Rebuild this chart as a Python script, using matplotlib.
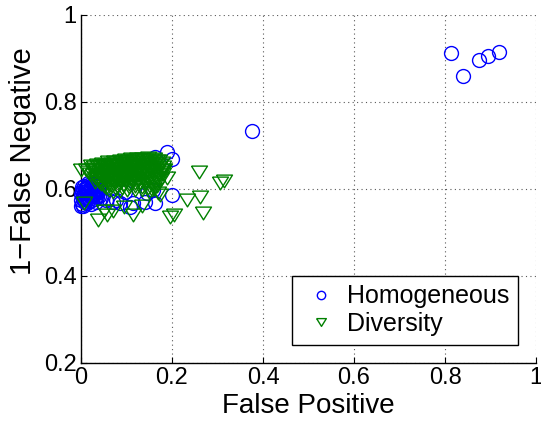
import matplotlib
matplotlib.use("Agg")
import matplotlib.pyplot as plt
from matplotlib.lines import Line2D

plt.rcParams['font.family'] = ['Liberation Sans', 'DejaVu Sans']

# Homogeneous ensembles: (false positive, 1 - false negative)
homog_fp = [
    0.000, 0.002, 0.004, 0.003, 0.006, 0.008, 0.010, 0.012, 0.014, 0.016,
    0.018, 0.020, 0.022, 0.024, 0.026, 0.028, 0.030, 0.032, 0.035, 0.038,
    0.040, 0.042, 0.001, 0.005, 0.009, 0.015, 0.007, 0.011, 0.019, 0.025,
    0.002, 0.013, 0.021, 0.033, 0.037, 0.004, 0.017, 0.029,
    0.000, 0.006, 0.012, 0.018, 0.023, 0.027, 0.031, 0.036, 0.040, 0.009,
    0.014, 0.003, 0.020, 0.034,
    0.045, 0.056, 0.070, 0.078, 0.086, 0.097, 0.108, 0.114, 0.141, 0.144,
    0.158, 0.163, 0.163, 0.188, 0.199, 0.199,
    0.375, 0.813, 0.840, 0.875, 0.894, 0.919,
]
homog_tp = [
    0.575, 0.565, 0.585, 0.598, 0.607, 0.570, 0.590, 0.603, 0.580, 0.610,
    0.595, 0.572, 0.604, 0.587, 0.612, 0.598, 0.578, 0.606, 0.590, 0.600,
    0.583, 0.606, 0.560, 0.562, 0.600, 0.614, 0.593, 0.578, 0.585, 0.600,
    0.592, 0.568, 0.566, 0.570, 0.592, 0.578, 0.596, 0.588,
    0.588, 0.582, 0.596, 0.576, 0.592, 0.583, 0.596, 0.581, 0.597, 0.571,
    0.605, 0.605, 0.600, 0.584,
    0.579, 0.575, 0.571, 0.575, 0.568, 0.594, 0.559, 0.568, 0.571, 0.590,
    0.598, 0.568, 0.674, 0.686, 0.668, 0.586,
    0.734, 0.913, 0.860, 0.897, 0.906, 0.916,
]

# Diversity-based ensembles
div_fp = [
    0.022, 0.035, 0.047, 0.060, 0.072, 0.085, 0.097, 0.110, 0.122, 0.135,
    0.147, 0.160, 0.172,
    0.028, 0.041, 0.053, 0.066, 0.078, 0.091, 0.103, 0.116, 0.128, 0.141,
    0.153, 0.166, 0.177,
    0.010, 0.024, 0.037, 0.049, 0.062, 0.074, 0.087, 0.099, 0.112, 0.124,
    0.137, 0.149, 0.162, 0.174,
    0.016, 0.030, 0.043, 0.055, 0.068, 0.081, 0.093, 0.106, 0.118, 0.131,
    0.143, 0.156, 0.168, 0.180,
    0.020, 0.033, 0.046, 0.058, 0.071, 0.084, 0.096, 0.109, 0.121, 0.134,
    0.146, 0.159, 0.171, 0.183,
    0.026, 0.039, 0.051, 0.064, 0.077, 0.089, 0.102, 0.114, 0.127, 0.139,
    0.152, 0.164, 0.176,
    0.030, 0.043, 0.056, 0.068, 0.081, 0.093, 0.106, 0.118, 0.131, 0.143,
    0.156, 0.168, 0.180,
    0.035, 0.048, 0.060, 0.073, 0.085, 0.098, 0.110, 0.123, 0.135, 0.148,
    0.160, 0.172,
    0.040, 0.052, 0.065, 0.077, 0.090, 0.102, 0.115, 0.127, 0.140, 0.152,
    0.165, 0.176,
    0.045, 0.058, 0.070, 0.083, 0.095, 0.108, 0.120, 0.133, 0.145, 0.158,
    0.170,
    0.050, 0.063, 0.075, 0.088, 0.100, 0.113, 0.125, 0.138, 0.150, 0.163,
    0.055, 0.068, 0.080, 0.093, 0.105, 0.118, 0.130, 0.143, 0.155, 0.167,
    0.062, 0.076, 0.091, 0.105, 0.119, 0.133, 0.147, 0.161,
    0.070, 0.086, 0.102, 0.118, 0.134, 0.150,
    0.000, 0.031, 0.007, 0.180, 0.188, 0.169,
    0.037, 0.057, 0.051, 0.070, 0.095, 0.114, 0.134, 0.174, 0.156,
    0.196, 0.204, 0.232, 0.262, 0.268, 0.259, 0.305, 0.314,
]
div_tp = [
    0.652, 0.656, 0.658, 0.661, 0.663, 0.665, 0.666, 0.668, 0.669, 0.670,
    0.671, 0.669, 0.664,
    0.650, 0.653, 0.656, 0.658, 0.660, 0.662, 0.664, 0.665, 0.666, 0.667,
    0.666, 0.664, 0.659,
    0.644, 0.647, 0.650, 0.652, 0.654, 0.656, 0.657, 0.659, 0.660, 0.662,
    0.663, 0.662, 0.660, 0.656,
    0.640, 0.643, 0.646, 0.648, 0.650, 0.652, 0.653, 0.655, 0.656, 0.657,
    0.658, 0.657, 0.654, 0.650,
    0.635, 0.638, 0.641, 0.643, 0.645, 0.647, 0.649, 0.650, 0.651, 0.652,
    0.653, 0.651, 0.648, 0.644,
    0.631, 0.634, 0.636, 0.639, 0.641, 0.643, 0.644, 0.646, 0.647, 0.647,
    0.646, 0.644, 0.640,
    0.626, 0.629, 0.632, 0.634, 0.636, 0.638, 0.640, 0.641, 0.642, 0.642,
    0.641, 0.638, 0.634,
    0.622, 0.625, 0.627, 0.629, 0.631, 0.633, 0.635, 0.636, 0.637, 0.636,
    0.634, 0.631,
    0.617, 0.620, 0.622, 0.625, 0.627, 0.628, 0.630, 0.631, 0.631, 0.630,
    0.628, 0.624,
    0.612, 0.615, 0.618, 0.620, 0.622, 0.624, 0.625, 0.626, 0.625, 0.623,
    0.620,
    0.607, 0.610, 0.613, 0.615, 0.617, 0.619, 0.620, 0.620, 0.618, 0.615,
    0.603, 0.606, 0.608, 0.610, 0.612, 0.614, 0.614, 0.613, 0.611, 0.607,
    0.598, 0.601, 0.603, 0.605, 0.606, 0.605, 0.603, 0.599,
    0.592, 0.595, 0.597, 0.598, 0.597, 0.594,
    0.643, 0.617, 0.568, 0.643, 0.625, 0.591,
    0.529, 0.540, 0.549, 0.549, 0.559, 0.540, 0.561, 0.586, 0.598,
    0.536, 0.540, 0.575, 0.582, 0.545, 0.638, 0.614, 0.619,
]

x_ticks = [0, 0.2, 0.4, 0.6, 0.8, 1]
x_labels = ["0", "0.2", "0.4", "0.6", "0.8", "1"]
y_ticks = [0.2, 0.4, 0.6, 0.8, 1]
y_labels = ["0.2", "0.4", "0.6", "0.8", "1"]

BLUE = (0, 0, 1)
GREEN = (0, 0.5, 0)
# downward triangle a little flatter than it is wide
TRI = [(-1.0, 0.8), (1.0, 0.8), (0.0, -0.8), (-1.0, 0.8)]

fig = plt.figure(figsize=(5.41, 4.28), dpi=100)
ax = fig.add_axes([0.1497, 0.1519, 0.8411, 0.8131])

ax.plot(homog_fp, homog_tp, linestyle='none', marker='o', markersize=10,
        markerfacecolor='none', markeredgecolor=BLUE, markeredgewidth=1.0,
        clip_on=False, zorder=3)
ax.plot(div_fp, div_tp, linestyle='none', marker=TRI, markersize=11.5,
        markerfacecolor='none', markeredgecolor=GREEN, markeredgewidth=1.0,
        clip_on=False, zorder=4)

ax.set_xlim(0, 1)
ax.set_ylim(0.2, 1)
ax.set_xticks(x_ticks)
ax.set_xticklabels(x_labels)
ax.set_yticks(y_ticks)
ax.set_yticklabels(y_labels)
ax.tick_params(direction='in', length=4, width=0.8, labelsize=17, pad=3,
               colors='black')
ax.grid(True, linestyle=(0, (1, 3)), color='0.35', linewidth=0.8)
ax.set_axisbelow(True)
for side in ('top', 'right'):
    ax.spines[side].set_visible(False)
for side in ('left', 'bottom'):
    ax.spines[side].set_linewidth(1.0)
    ax.spines[side].set_color('black')

ax.set_xlabel('False Positive', fontsize=20, labelpad=3)
ax.set_ylabel('1\u2212False Negative', fontsize=21)
ax.yaxis.set_label_coords(-0.097, 0.58)

handles = [
    Line2D([], [], linestyle='none', marker='o', markersize=6,
           markerfacecolor='none', markeredgecolor=BLUE, markeredgewidth=1.0),
    Line2D([], [], linestyle='none', marker=TRI, markersize=7,
           markerfacecolor='none', markeredgecolor=GREEN, markeredgewidth=1.0),
]
leg = ax.legend(handles, ['Homogeneous', 'Diversity'], loc='lower left',
                bbox_to_anchor=(0.4637, 0.0517), fontsize=18, frameon=True,
                fancybox=False, framealpha=1, edgecolor='black',
                handlelength=1.6, handletextpad=0.25, borderpad=0.35,
                labelspacing=0.15, borderaxespad=0)
leg.get_frame().set_linewidth(1.0)

fig.savefig('out.png', dpi=100)
